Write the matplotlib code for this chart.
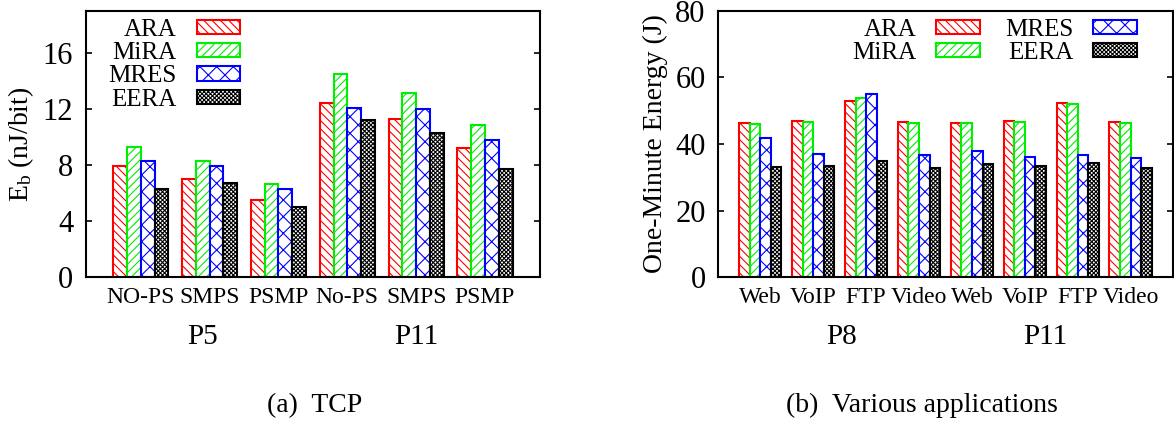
import matplotlib
matplotlib.use("Agg")
import matplotlib.pyplot as plt
import matplotlib.transforms as mtransforms
import numpy as np

plt.rcParams["font.family"] = ["Liberation Serif", "DejaVu Serif"]
plt.rcParams["mathtext.fontset"] = "custom"
plt.rcParams["mathtext.rm"] = "Liberation Serif"
plt.rcParams["hatch.linewidth"] = 0.8

schemes = ["ARA", "MiRA", "MRES", "EERA"]

# (a) TCP, energy per bit in nJ/bit
tcp_modes = ["NO-PS", "SMPS", "PSMP", "No-PS", "SMPS", "PSMP"]
tcp_groups = ["P5", "P11"]
ara_tcp = [7.95, 7.0, 5.5, 12.4, 11.25, 9.2]
mira_tcp = [9.3, 8.3, 6.65, 14.5, 13.15, 10.85]
mres_tcp = [8.3, 7.9, 6.3, 12.1, 12.0, 9.8]
eera_tcp = [6.3, 6.7, 5.0, 11.2, 10.3, 7.7]

# (b) various applications, one-minute energy in J
apps = ["Web", "VoIP", "FTP", "Video", "Web", "VoIP", "FTP", "Video"]
app_groups = ["P8", "P11"]
ara_app = [46.2, 47.0, 53.0, 46.7, 46.4, 46.9, 52.3, 46.7]
mira_app = [46.1, 46.7, 53.9, 46.4, 46.4, 46.7, 51.9, 46.4]
mres_app = [41.9, 37.0, 55.0, 36.8, 37.9, 36.2, 36.8, 35.7]
eera_app = [33.1, 33.5, 35.0, 32.7, 34.0, 33.5, 34.4, 32.7]

colors = ["#ff0000", "#00ee00", "#0000ff", "#000000"]
hatches = ["\\\\\\\\", "////", "xx", "xxxxxxxx"]
BAR_W = 0.2


def style_ax(ax, ylim, yticks):
    for sp in ax.spines.values():
        sp.set_linewidth(1.5)
    ax.set_ylim(*ylim)
    ax.set_yticks(yticks)
    ax.tick_params(axis="y", direction="in", right=True, length=4.5,
                   width=1.2, pad=9, labelsize=22)
    ax.tick_params(axis="x", length=0, pad=7, labelsize=17)


def draw_bars(ax, series):
    x = np.arange(len(series[0]))
    for k, vals in enumerate(series):
        ax.bar(x + (k - 1.5) * BAR_W, vals, BAR_W, facecolor="white",
               edgecolor=colors[k], hatch=hatches[k], linewidth=1.5,
               label=schemes[k])
    return x


def group_label(ax, xpos, text):
    trans = mtransforms.blended_transform_factory(ax.transData, ax.transAxes)
    ax.text(xpos, -0.226, text, transform=trans, ha="center", va="center",
            fontsize=21)


fig = plt.figure(figsize=(11.74, 4.21), dpi=100)

# (a) TCP
ax1 = fig.add_axes([0.073, 0.342, 0.387, 0.632])
x1 = draw_bars(ax1, [ara_tcp, mira_tcp, mres_tcp, eera_tcp])
style_ax(ax1, (0, 19), [0, 4, 8, 12, 16])
ax1.set_xlim(-0.8, 5.8)
ax1.set_xticks(x1)
ax1.set_xticklabels(tcp_modes)
ax1.set_ylabel(r"$\mathregular{E_b}$ (nJ/bit)", fontsize=20, labelpad=5)
group_label(ax1, 0.9, tcp_groups[0])
group_label(ax1, 4.0, tcp_groups[1])
ax1.legend(loc="upper left", bbox_to_anchor=(0.05, 0.97), frameon=False,
           markerfirst=False, fontsize=18, handlelength=1.75,
           handleheight=0.5, handletextpad=0.8, labelspacing=0.05,
           borderpad=0, borderaxespad=0)

# (b) various applications
ax2 = fig.add_axes([0.6116, 0.342, 0.3875, 0.632])
x2 = draw_bars(ax2, [ara_app, mira_app, mres_app, eera_app])
style_ax(ax2, (0, 80), [0, 20, 40, 60, 80])
ax2.set_xlim(-0.8, 7.8)
ax2.set_xticks(x2)
ax2.set_xticklabels(apps)
ax2.set_ylabel("One-Minute Energy (J)", fontsize=20, labelpad=5)
group_label(ax2, 1.53, app_groups[0])
group_label(ax2, 5.38, app_groups[1])
ax2.legend(loc="upper right", bbox_to_anchor=(0.921, 0.97), frameon=False,
           markerfirst=False, ncol=2, fontsize=18, handlelength=1.75,
           handleheight=0.5, handletextpad=0.8, labelspacing=0.05,
           columnspacing=1.0, borderpad=0, borderaxespad=0)

fig.text(315 / 1174, 0.036, "(a)  TCP", ha="center", va="center", fontsize=20)
fig.text(922 / 1174, 0.036, "(b)  Various applications", ha="center",
         va="center", fontsize=20)

fig.savefig("out.png", dpi=100)
